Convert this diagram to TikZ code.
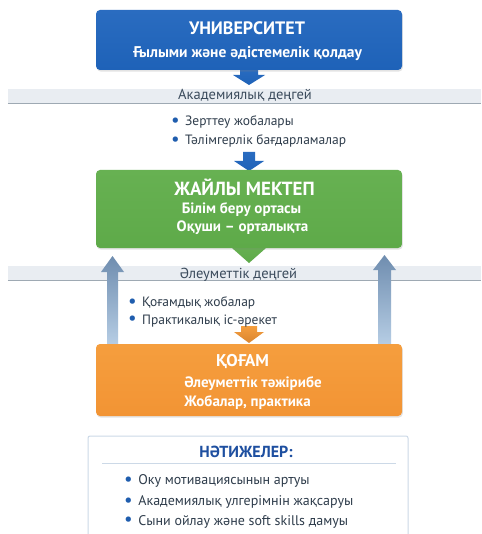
\documentclass[tikz,border=0pt]{standalone}
\usepackage{fontspec}
\setmainfont{PT Sans}
\usetikzlibrary{calc,shadows}
\definecolor{uniblue}{HTML}{1E62B8}
\definecolor{uniblueT}{HTML}{2A6CC0}
\definecolor{schgreen}{HTML}{5EAA49}
\definecolor{schgreenT}{HTML}{67B152}
\definecolor{socorange}{HTML}{F29434}
\definecolor{socorangeT}{HTML}{F59E3E}
\definecolor{bandfill}{HTML}{E9EDF2}
\definecolor{bandline}{HTML}{9EA9B3}
\definecolor{bandtext}{HTML}{3B4B5C}
\definecolor{bodytext}{HTML}{2F3D4C}
\definecolor{dotblue}{HTML}{1F5DAE}
\definecolor{resborder}{HTML}{CCD9E7}
\definecolor{restitle}{HTML}{1E4FA0}
\definecolor{upTop}{HTML}{6F8DAF}
\definecolor{upBot}{HTML}{B8CFE6}
\tikzset{
  mainbox/.style={rounded corners=4pt, minimum width=306pt, inner sep=0pt,
    drop shadow={opacity=0.22, shadow xshift=0.8pt, shadow yshift=-1.6pt}},
  boxtitle/.style={anchor=base, text=white, font=\bfseries\fontsize{18}{20}\selectfont, inner sep=0pt},
  boxsub/.style={anchor=base, text=white, font=\bfseries\fontsize{15}{17}\selectfont, inner sep=0pt},
  bandbox/.style={fill=bandfill, minimum width=473pt, minimum height=14pt, inner sep=0pt},
  bandlabel/.style={anchor=base, text=bandtext, font=\fontsize{14.5}{16}\selectfont, inner sep=0pt},
  bullet/.style={anchor=base west, text=bodytext, font=\fontsize{13.5}{15}\selectfont, inner sep=0pt},
}
\newcommand{\dotb}{{\color{dotblue}\fontsize{19}{19}\selectfont\raisebox{-0.6pt}{\textbullet}}\hspace{0.4em}}
\begin{document}
\begin{tikzpicture}[x=1pt,y=-1pt]
\useasboundingbox (0,0) rectangle (481,534);
\fill[white] (0,0) rectangle (481,534);

% bands
\node[bandbox] (band1) at (244.5,96) {};
\draw[bandline, line width=1pt] (band1.south west) -- (band1.south east);
\node[bandbox] (band2) at (244.5,273) {};
\draw[bandline, line width=1pt] (band2.south west) -- (band2.south east);

% coordinates for block arrows
\coordinate (a1top) at (249,68);
\coordinate (a1tip) at (249,85);
\coordinate (a2top) at (249,152);
\coordinate (a2tip) at (249,171);
\coordinate (a3top) at (249,244);
\coordinate (a3tip) at (249,263);
\coordinate (a4top) at (249,326);
\coordinate (a4tip) at (249,343);
\coordinate (lup) at (112.5,256);
\coordinate (rup) at (384.5,255);

% down block arrows
\shade[top color=uniblueT, bottom color=uniblue]
  ($(a1top)+(-9,0)$) -- ($(a1tip)+(-9,-10)$) -- ($(a1tip)+(-16,-10)$) -- (a1tip)
  -- ($(a1tip)+(16,-10)$) -- ($(a1tip)+(9,-10)$) -- ($(a1top)+(9,0)$) -- cycle;
\shade[top color=uniblueT, bottom color=uniblue]
  ($(a2top)+(-6,0)$) -- ($(a2tip)+(-6,-10)$) -- ($(a2tip)+(-15,-10)$) -- (a2tip)
  -- ($(a2tip)+(15,-10)$) -- ($(a2tip)+(6,-10)$) -- ($(a2top)+(6,0)$) -- cycle;
\shade[top color=schgreenT, bottom color=schgreen]
  ($(a3top)+(-8,0)$) -- ($(a3tip)+(-8,-15)$) -- ($(a3tip)+(-17,-15)$) -- (a3tip)
  -- ($(a3tip)+(17,-15)$) -- ($(a3tip)+(8,-15)$) -- ($(a3top)+(8,0)$) -- cycle;
\shade[top color=socorangeT, bottom color=socorange!90!black]
  ($(a4top)+(-8,0)$) -- ($(a4tip)+(-8,-11)$) -- ($(a4tip)+(-15,-11)$) -- (a4tip)
  -- ($(a4tip)+(15,-11)$) -- ($(a4tip)+(8,-11)$) -- ($(a4top)+(8,0)$) -- cycle;

% up block arrows
\coordinate (lbot) at (112.5,347);
\coordinate (rbot) at (384.5,347);
\shade[top color=upTop, bottom color=upBot]
  ($(lbot)+(-5.5,0)$) -- ($(lup)+(-5.5,16)$) -- ($(lup)+(-11.5,16)$) -- (lup)
  -- ($(lup)+(11.5,16)$) -- ($(lup)+(5.5,16)$) -- ($(lbot)+(5.5,0)$) -- cycle;
\shade[top color=upTop, bottom color=upBot]
  ($(rbot)+(-6.5,0)$) -- ($(rup)+(-6.5,15)$) -- ($(rup)+(-11.5,15)$) -- (rup)
  -- ($(rup)+(11.5,15)$) -- ($(rup)+(6.5,15)$) -- ($(rbot)+(6.5,0)$) -- cycle;

% main boxes
\node[mainbox, top color=uniblueT, bottom color=uniblue, minimum height=60pt] (uni) at (249,40) {};
\node[mainbox, top color=schgreenT, bottom color=schgreen, minimum height=78pt] (school) at (249,209) {};
\node[mainbox, top color=socorangeT, bottom color=socorange, minimum height=72pt] (society) at (249,380) {};

\node[boxtitle] (uniT) at (247,35) {УНИВЕРСИТЕТ};
\node[boxsub, font=\bfseries\fontsize{15.5}{17}\selectfont] (uniS) at (247.5,57.5) {Ғылыми және әдістемелік қолдау};

\node[boxtitle, font=\bfseries\fontsize{19}{21}\selectfont] (schT) at (244.5,196) {ЖАЙЛЫ МЕКТЕП};
\node[boxsub] (schS1) at (241.5,214) {Білім беру ортасы};
\node[boxsub] (schS2) at (242.5,232) {Оқуши – орталықта};

\node[boxtitle, font=\bfseries\fontsize{17}{19}\selectfont] (socT) at (242.5,366.5) {ҚОҒАМ};
\node[boxsub] (socS1) at (253,387) {Әлеуметтік тәжірибе};
\node[boxsub] (socS2) at (247.5,406) {Жобалар, практика};

% band labels
\node[bandlabel] (band1L) at (245,100) {Академиялық деңгей};
\node[bandlabel] (band2L) at (238.5,278) {Әлеуметтік деңгей};

% bullets
\node[bullet] (b1) at (171,126) {\dotb Зерттеу жобалары};
\node[bullet] (b2) at (171,145) {\dotb Тәлімгерлік бағдарламалар};
\node[bullet] (b3) at (128,306.5) {\dotb Қоғамдық жобалар};
\node[bullet] (b4) at (128,324) {\dotb Практикалық іс-әрекет};

% results
\node[draw=resborder, fill=white, line width=1pt, rounded corners=2pt,
  minimum width=320pt, minimum height=110pt, inner sep=0pt,
  drop shadow={opacity=0.08, shadow xshift=0pt, shadow yshift=-1.5pt}] (res) at (248,491) {};
\node[anchor=base, text=restitle, font=\bfseries\fontsize{16}{18}\selectfont, inner sep=0pt] (resT) at (246,457) {НӘТИЖЕЛЕР:};
\coordinate (sepL) at (102,463.5);
\coordinate (sepR) at (396,463.5);
\draw[resborder, line width=1.2pt] (sepL) -- (sepR);
\node[bullet, font=\fontsize{14}{16}\selectfont] (r1) at (124,484.5) {\dotb Оку мотивациясынын артуы};
\node[bullet, font=\fontsize{14}{16}\selectfont] (r2) at (124,505.5) {\dotb Академиялық улгерімнін жақсаруы};
\node[bullet, font=\fontsize{14}{16}\selectfont] (r3) at (124,525) {\dotb Сыни ойлау және soft skills дамуы};
\end{tikzpicture}
\end{document}
